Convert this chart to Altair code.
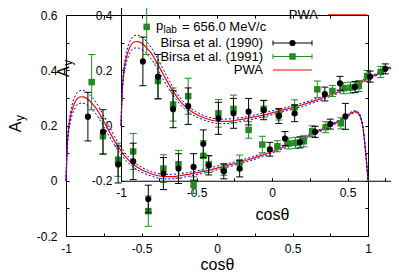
import altair as alt
import pandas as pd

# ---------------- data ----------------
b90_x = [-0.855, -0.755, -0.655, -0.555, -0.455, -0.355, -0.255, -0.155, -0.055,
         0.045, 0.15, 0.35, 0.45, 0.55, 0.65, 0.75, 0.85]
b90_y = [0.232, 0.177, 0.059, 0.070, -0.066, 0.026, 0.044, 0.050, 0.056,
         0.034, 0.044, 0.114, 0.153, 0.139, 0.177, 0.205, 0.233]
b90_e = [0.088, 0.080, 0.067, 0.066, 0.050, 0.058, 0.054, 0.048, 0.035,
         0.027, 0.030, 0.025, 0.025, 0.020, 0.020, 0.018, 0.047]

b91_x = [-0.83, -0.755, -0.655, -0.555, -0.455, -0.355, -0.255, -0.155, -0.055,
         0.045, 0.15, 0.30, 0.40, 0.475, 0.52, 0.575, 0.63, 0.72, 0.82]
b91_y = [0.357, 0.161, 0.076, 0.106, -0.110, 0.044, 0.060, -0.016, 0.060,
         0.040, 0.066, 0.131, 0.125, 0.135, 0.137, 0.143, 0.179, 0.194, 0.208]
b91_e = [0.100, 0.065, 0.060, 0.065, 0.055, 0.050, 0.050, 0.030, 0.030,
         0.020, 0.027, 0.030, 0.020, 0.020, 0.020, 0.020, 0.020, 0.020, 0.020]

pwa_x = [-1.0, -0.995, -0.99, -0.98, -0.97, -0.96, -0.94, -0.92, -0.9, -0.88, -0.86,
         -0.84, -0.82, -0.8, -0.77, -0.74, -0.7, -0.65, -0.6, -0.55, -0.5, -0.45,
         -0.4, -0.35, -0.3, -0.25, -0.2, -0.1, 0.0, 0.1, 0.2, 0.3, 0.4, 0.5, 0.6,
         0.7, 0.8, 0.85, 0.88, 0.9, 0.92, 0.94, 0.96, 0.97, 0.98, 0.99, 1.0]
pwa_y = [0.0, 0.08, 0.14, 0.20, 0.232, 0.255, 0.285, 0.300, 0.304, 0.303, 0.297,
         0.287, 0.275, 0.262, 0.235, 0.205, 0.165, 0.120, 0.083, 0.058, 0.040, 0.028,
         0.019, 0.015, 0.015, 0.018, 0.022, 0.033, 0.046, 0.060, 0.075, 0.093, 0.113,
         0.135, 0.160, 0.187, 0.214, 0.230, 0.242, 0.248, 0.250, 0.242, 0.212, 0.180,
         0.128, 0.070, 0.0]
pwa_up = [0.0, 0.086, 0.150, 0.214, 0.249, 0.274, 0.306, 0.322, 0.327, 0.326, 0.320,
          0.309, 0.297, 0.283, 0.255, 0.224, 0.182, 0.134, 0.095, 0.068, 0.049, 0.036,
          0.027, 0.023, 0.023, 0.026, 0.029, 0.040, 0.053, 0.066, 0.081, 0.099, 0.118,
          0.140, 0.165, 0.191, 0.218, 0.234, 0.246, 0.252, 0.254, 0.246, 0.215, 0.183,
          0.130, 0.071, 0.0]
pwa_lo = [0.0, 0.074, 0.130, 0.186, 0.215, 0.236, 0.264, 0.278, 0.281, 0.280, 0.274,
          0.265, 0.253, 0.241, 0.215, 0.186, 0.148, 0.106, 0.071, 0.048, 0.031, 0.020,
          0.011, 0.007, 0.007, 0.010, 0.015, 0.026, 0.039, 0.054, 0.069, 0.087, 0.108,
          0.130, 0.155, 0.183, 0.210, 0.226, 0.238, 0.244, 0.246, 0.238, 0.209, 0.177,
          0.126, 0.069, 0.0]

x_label_values = [-1, -0.5, 0, 0.5, 1]
x_tick_values = [-1, -0.75, -0.5, -0.25, 0, 0.25, 0.5, 0.75, 1]
y_label_values = [-0.2, 0, 0.2, 0.4, 0.6]
y_tick_values = [-0.2, -0.1, 0, 0.1, 0.2, 0.3, 0.4, 0.5, 0.6]

series_names = ["Birsa et al. (1990)", "Birsa et al. (1991)", "PWA"]
plab_main = "p"
plab_sub = "lab"
plab_rest = "= 656.0 MeV/c"
x_title = "cosθ"
y_title_main = "A"
y_title_sub = "y"

# ---------------- layout / style ----------------
W, H = 302, 221
FRONT_DX, FRONT_DY = 55, -55.25
FONT = "Liberation Sans"
GREEN = "#228b22"
RED = "#ff0000"
BLUE = "#0000ff"

df_pwa = pd.DataFrame({"x": pwa_x, "y": pwa_y})
df_band = pd.DataFrame({"x": pwa_x + pwa_x, "y": pwa_up + pwa_lo,
                        "kind": ["up"] * len(pwa_x) + ["lo"] * len(pwa_x)})


def err_frames(xs, ys, es):
    d = pd.DataFrame({"x": xs, "y": ys, "e": es})
    d["lo"] = d["y"] - d["e"]
    d["hi"] = d["y"] + d["e"]
    caps = pd.concat([pd.DataFrame({"x": d["x"], "yc": d["lo"]}),
                      pd.DataFrame({"x": d["x"], "yc": d["hi"]})], ignore_index=True)
    return d, caps


df90, caps90 = err_frames(b90_x, b90_y, b90_e)
df91, caps91 = err_frames(b91_x, b91_y, b91_e)
one = pd.DataFrame({"a": [0]})


def tick_axis(orient, offset, values, size):
    return alt.Axis(orient=orient, offset=offset, values=values, ticks=True,
                    tickSize=size, tickWidth=1, tickColor="black", domain=False,
                    labels=False, grid=False, title=None)


def panel(dx, dy, ylab_dx, title_y):
    sx = alt.Scale(domain=[-1, 1], range=[dx, W + dx], nice=False, zero=False)
    sy = alt.Scale(domain=[-0.2, 0.6], range=[H + dy, dy], nice=False, zero=False)

    ax_x_lab = alt.Axis(orient="bottom", offset=dy, values=x_label_values, ticks=False,
                        tickSize=0, domain=True, domainColor="black", domainWidth=1,
                        labelPadding=7, labelFlush=False, labelOverlap=False,
                        labelExpr="'' + datum.value", grid=False, title=x_title,
                        titleBaseline="alphabetic", titleY=title_y)
    ax_y_lab = alt.Axis(orient="left", offset=-dx, values=y_label_values, ticks=False,
                        tickSize=0, domain=True, domainColor="black", domainWidth=1,
                        labelPadding=9, labelFlush=False, labelOverlap=False,
                        labelExpr="'' + datum.value", grid=False, title=None)
    ax_x_in_bottom = tick_axis("top", -(H + dy), x_tick_values, 3)
    ax_x_in_top = tick_axis("bottom", dy - H, x_tick_values, 3)
    ax_y_in_left = tick_axis("right", dx - W, y_tick_values, 3)
    ax_y_in_right = tick_axis("left", -(W + dx), y_tick_values, 3)

    def X(f, axis=None):
        return alt.X(f, type="quantitative", scale=sx, axis=axis)

    def Y(f, axis=None):
        return alt.Y(f, type="quantitative", scale=sy, axis=axis)

    layers = []
    layers.append(alt.Chart(df_pwa).mark_line(color=RED, strokeWidth=1.2,
                                              interpolate="monotone")
                  .encode(x=X("x", ax_x_lab), y=Y("y", ax_y_lab)))
    layers.append(alt.Chart(df_band).mark_line(color=BLUE, strokeWidth=1,
                                               strokeDash=[2, 2], interpolate="monotone")
                  .encode(x=X("x", ax_x_in_bottom), y=Y("y", ax_y_in_left),
                          detail="kind:N"))
    # Birsa 1991 (green squares)
    layers.append(alt.Chart(df91).mark_rule(color=GREEN, strokeWidth=1)
                  .encode(x=X("x", ax_x_in_top), y=Y("lo", ax_y_in_right), y2="hi"))
    layers.append(alt.Chart(caps91).mark_tick(orient="horizontal", size=7, thickness=1,
                                              color=GREEN, opacity=1)
                  .encode(x=X("x"), y=Y("yc")))
    layers.append(alt.Chart(df91).mark_point(shape="square", filled=True, size=42,
                                             color=GREEN, opacity=1)
                  .encode(x=X("x"), y=Y("y")))
    # Birsa 1990 (black circles)
    layers.append(alt.Chart(df90).mark_rule(color="black", strokeWidth=1)
                  .encode(x=X("x"), y=Y("lo"), y2="hi"))
    layers.append(alt.Chart(caps90).mark_tick(orient="horizontal", size=7, thickness=1,
                                              color="black", opacity=1)
                  .encode(x=X("x"), y=Y("yc")))
    layers.append(alt.Chart(df90).mark_point(shape="circle", filled=True, size=38,
                                             color="black", opacity=1)
                  .encode(x=X("x"), y=Y("y")))

    # key (legend) drawn at the panel's top right
    def txt(text, x, y, size=13, align="left", angle=0):
        return alt.Chart(one).mark_text(text=text, font=FONT, fontSize=size, align=align,
                                        baseline="middle", angle=angle, color="black"
                                        ).encode(x=alt.value(x), y=alt.value(y))

    layers.append(txt(plab_main, dx + 90, dy + 11))
    layers.append(txt(plab_sub, dx + 97.5, dy + 15, size=10))
    layers.append(txt(plab_rest, dx + 116, dy + 12))
    rows_y = [28, 41.5, 55]
    colors = ["black", GREEN, RED]
    for name, ry, col in zip(series_names, rows_y, colors):
        layers.append(txt(name, dx + 197, dy + ry, align="right"))
        layers.append(alt.Chart(one).mark_rule(color=col, strokeWidth=1)
                      .encode(x=alt.value(dx + 207), x2=alt.value(dx + 246),
                              y=alt.value(dy + ry)))
    for ry, col, shape, size in [(28, "black", "circle", 38), (41.5, GREEN, "square", 42)]:
        for cx in (207, 246):
            layers.append(alt.Chart(one).mark_rule(color=col, strokeWidth=1)
                          .encode(x=alt.value(dx + cx), y=alt.value(dy + ry - 2.5),
                                  y2=alt.value(dy + ry + 2.5)))
        layers.append(alt.Chart(one).mark_point(shape=shape, filled=True, size=size,
                                                color=col, opacity=1)
                      .encode(x=alt.value(dx + 226.5), y=alt.value(dy + ry)))

    # y axis title A_y
    layers.append(txt(y_title_main, dx + ylab_dx, dy + 112, size=16, align="center",
                      angle=270))
    layers.append(txt(y_title_sub, dx + ylab_dx + 4, dy + 103, size=12, align="center",
                      angle=270))
    return layers


all_layers = panel(0, 0, -50, 33) + panel(FRONT_DX, FRONT_DY, -57, 39)

chart = (alt.layer(*all_layers)
         .resolve_scale(x="independent", y="independent")
         .properties(width=W, height=H,
                     autosize=alt.AutoSizeParams(type="none"),
                     padding={"left": 58, "top": 7, "right": 23, "bottom": 35},
                     background="white")
         .configure_view(stroke="black", strokeWidth=1)
         .configure_axis(labelFont=FONT, labelFontSize=12, labelColor="black",
                         titleFont=FONT, titleFontSize=16, titleFontWeight="normal",
                         titleColor="black"))

chart.save("out.html", embed_options={"renderer": "svg", "actions": False})
